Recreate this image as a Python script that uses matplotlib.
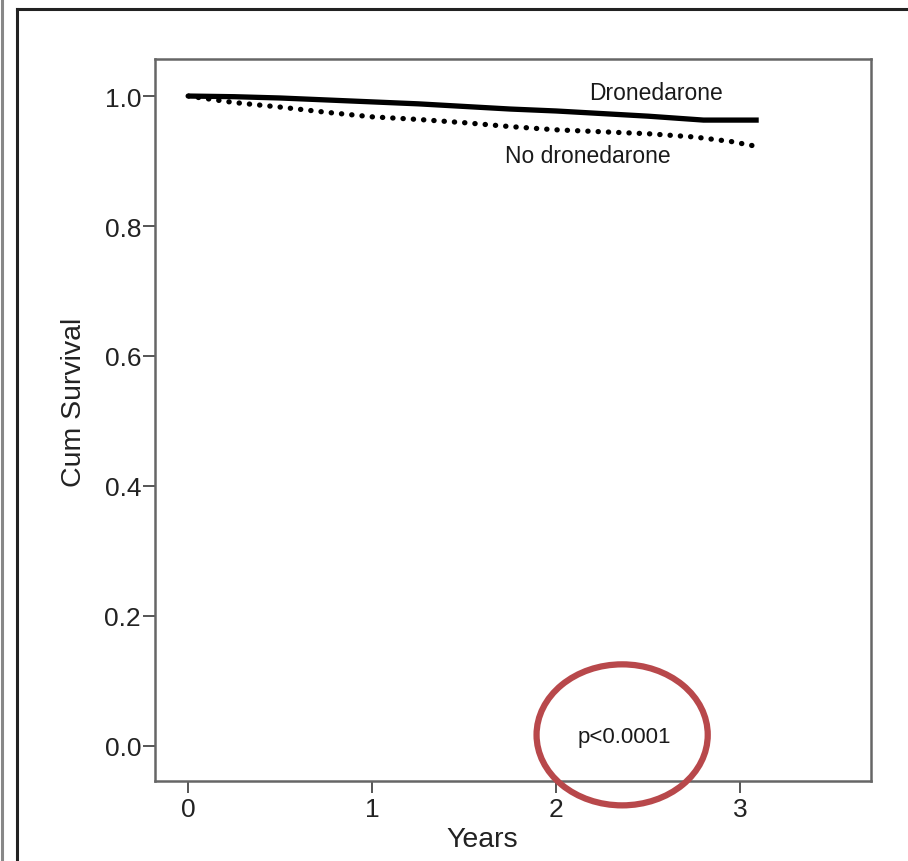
import numpy as np
import matplotlib
matplotlib.use('Agg')
import matplotlib.pyplot as plt
from matplotlib.patches import Ellipse
from matplotlib.lines import Line2D

plt.rcParams['font.family'] = ['Liberation Sans', 'DejaVu Sans']

#Kaplan-Meier estimates
t_drone = [0, 0.25, 0.5, 0.75, 1.0, 1.25, 1.5, 1.75, 2.0, 2.25, 2.5, 2.8, 3.1]
s_drone = [1.0, 0.999, 0.997, 0.994, 0.991, 0.988, 0.984, 0.980, 0.977, 0.973, 0.969, 0.963, 0.963]

t_none = [0, 0.1, 0.25, 0.5, 0.75, 1.0, 1.25, 1.5, 1.75, 2.0, 2.25, 2.5, 2.75, 2.95, 3.08]
s_none = [1.0, 0.996, 0.990, 0.983, 0.975, 0.968, 0.964, 0.959, 0.953, 0.948, 0.945, 0.942, 0.937, 0.930, 0.923]

x_ticks = [0, 1, 2, 3]
y_ticks = [0.0, 0.2, 0.4, 0.6, 0.8, 1.0]

fig = plt.figure(figsize=(9.08, 8.62), dpi=100)
ax = fig.add_axes([155/908, 1-782/862, 716/908, 722/862])

#Survival curves
ax.plot(t_drone, s_drone, '-', color='black', lw=3.8, solid_capstyle='butt')
ax.plot(t_none, s_none, color='black', lw=3.8,
        linestyle=(0, (0.05, 1.9)), dash_capstyle='round')

#Curve labels
ax.text(2.54, 1.006, 'Dronedarone', ha='center', va='center', fontsize=16.5,
        color='#1a1a1a')
ax.text(2.17, 0.908, 'No dronedarone', ha='center', va='center', fontsize=16.5,
        color='#1a1a1a')
ax.text(2.37, 0.014, 'p<0.0001', ha='center', va='center', fontsize=16,
        color='#1a1a1a')

#Red circle round the p value
ell = Ellipse((2.358, 0.017), 0.93, 0.217, fill=False, edgecolor='#b8484b',
              lw=4.5, clip_on=False, zorder=5)
ax.add_patch(ell)

#Axes
ax.set_xlim(-0.18, 3.71)
ax.set_ylim(-0.054, 1.057)
ax.set_xticks(x_ticks)
ax.set_yticks(y_ticks)
ax.set_xticklabels([str(v) for v in x_ticks])
ax.set_yticklabels(['%.1f' % v for v in y_ticks])
ax.tick_params(direction='out', length=8.5, width=1.4, color='#555555',
               labelsize=19, labelcolor='#222222')
ax.tick_params(axis='y', pad=1.5)
ax.tick_params(axis='x', pad=3)
for sp in ax.spines.values():
    sp.set_color('#666666')
    sp.set_linewidth(1.8)

ax.set_xlabel('Years', fontsize=20.5, va='center', color='#222222')
ax.xaxis.set_label_coords(0.457, -0.080)
ax.set_ylabel('Cum Survival', fontsize=20.5, va='center', color='#222222')
ax.yaxis.set_label_coords(-0.113, 0.526)

#Page frame round the figure
top = 1 - 10/862
fig.add_artist(Line2D([2/908, 2/908], [0, 1], color='#888888', lw=2.2))
fig.add_artist(Line2D([17/908, 17/908], [0, top], color='#222222', lw=2.2))
fig.add_artist(Line2D([17/908, 1], [top, top], color='#222222', lw=2.2))

fig.savefig('out.png', dpi=100)
